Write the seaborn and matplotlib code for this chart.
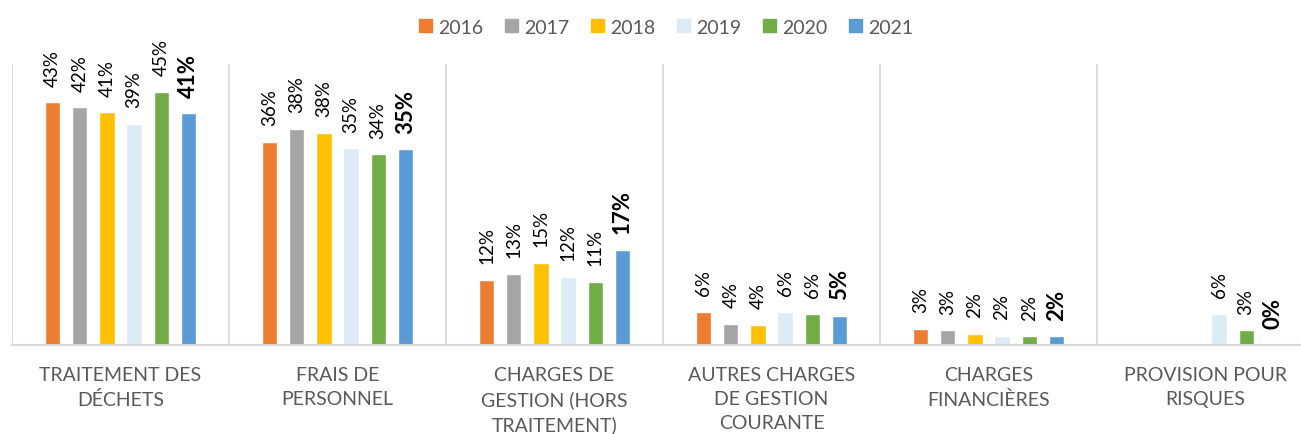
import numpy as np
import pandas as pd
import seaborn as sns
import matplotlib.pyplot as plt
from matplotlib.patches import Patch

# categories and years
categories = ["TRAITEMENT DES\nDÉCHETS", "FRAIS DE\nPERSONNEL", "CHARGES DE\nGESTION (HORS\nTRAITEMENT)",
              "AUTRES CHARGES\nDE GESTION\nCOURANTE", "CHARGES\nFINANCIÈRES", "PROVISION POUR\nRISQUES"]
years = ["2016", "2017", "2018", "2019", "2020", "2021"]

# share of each expense item, per year
v2016 = [0.432, 0.362, 0.116, 0.059, 0.029, np.nan]
v2017 = [0.423, 0.385, 0.127, 0.038, 0.026, np.nan]
v2018 = [0.414, 0.377, 0.146, 0.036, 0.020, np.nan]
v2019 = [0.393, 0.350, 0.121, 0.059, 0.016, 0.056]
v2020 = [0.450, 0.339, 0.112, 0.055, 0.0155, 0.026]
v2021 = [0.412, 0.348, 0.169, 0.052, 0.0155, 0.0]

colors = ["#ED7D31", "#A5A5A5", "#FFC000", "#DDEBF7", "#70AD47", "#5B9BD5"]

rows = []
for year, vals in zip(years, [v2016, v2017, v2018, v2019, v2020, v2021]):
    for cat, v in zip(categories, vals):
        rows.append({"cat": cat, "year": year, "value": v})
df = pd.DataFrame(rows)

sns.set_style("white")
plt.rcParams['font.family'] = ['Lato', 'DejaVu Sans']

fig = plt.figure(figsize=(13.01, 4.35), dpi=100)
ax = fig.add_axes([12 / 1301, 89 / 435, 1302 / 1301, 281 / 435])

palette = dict(zip(years, colors))
sns.barplot(data=df, x="cat", y="value", hue="year", hue_order=years, order=categories,
            palette=palette, width=0.75, gap=0.44, saturation=1, legend=False, ax=ax)

ax.set_ylim(0, 0.5)
ax.set_xlim(-0.5, len(categories) - 0.5)
ax.set_yticks([])
ax.set_xlabel("")
ax.set_ylabel("")
for s in ["top", "right", "left"]:
    ax.spines[s].set_visible(False)
ax.spines["bottom"].set_color("#D9D9D9")
ax.spines["bottom"].set_linewidth(1.5)
for i in range(len(categories)):
    ax.axvline(i - 0.5, color="#D9D9D9", lw=1.3, zorder=0)

ax.tick_params(axis="x", length=0, pad=15, labelsize=14, labelcolor="#595959")
for lab in ax.get_xticklabels():
    lab.set_linespacing(1.5)

# value labels, last year in bold and bigger
for i, cont in enumerate(ax.containers):
    labels = ["" if np.isnan(b.get_height()) else f"{b.get_height():.0%}" for b in cont]
    last = years[i] == "2021"
    ax.bar_label(cont, labels=labels, rotation=90, padding=12, fontsize=16 if last else 13.5,
                 fontweight="bold" if last else "normal", color="black")

handles = [Patch(color=c) for c in colors]
fig.legend(handles, years, loc="upper center", bbox_to_anchor=(0.512, 0.995), ncol=6, frameon=False,
           fontsize=14, labelcolor="#595959", handlelength=0.65, handleheight=0.65,
           handletextpad=0.3, columnspacing=1.15)

fig.savefig("out.png", dpi=100)
